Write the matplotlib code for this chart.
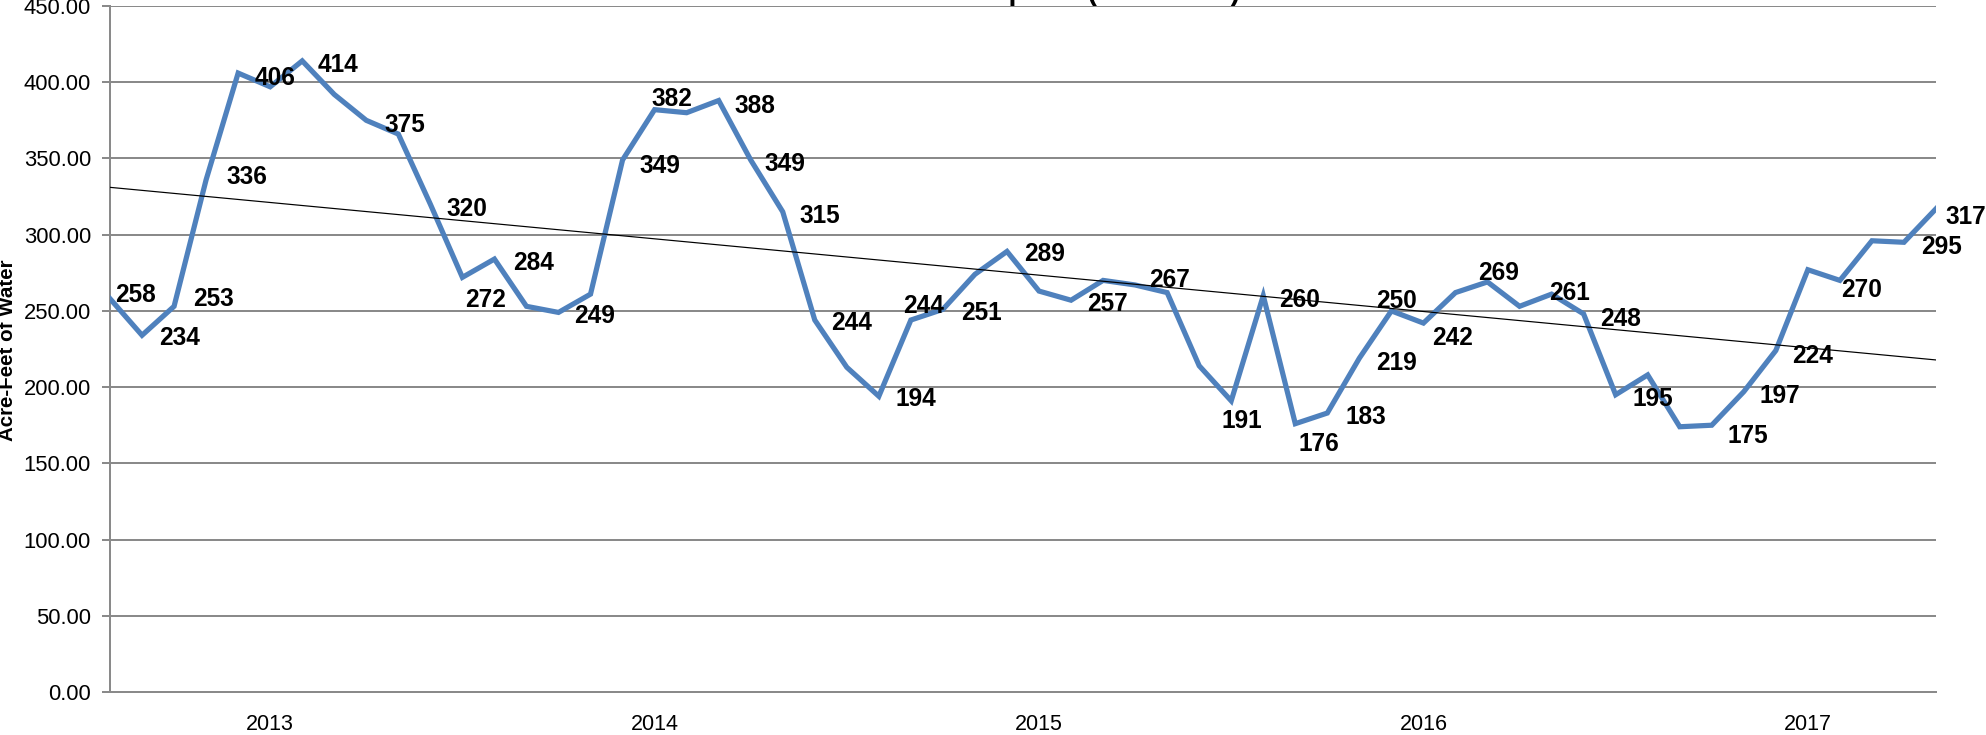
import matplotlib
matplotlib.use("Agg")
import matplotlib.pyplot as plt
import numpy as np
import pandas as pd

# ---- data ----
months = pd.date_range("2012-08-01", periods=58, freq="MS")
consumption = [258, 234, 253, 336, 406, 397, 414, 392, 375, 366,
               320, 272, 284, 253, 249, 261, 349, 382, 380, 388,
               349, 315, 244, 213, 194, 244, 251, 274, 289, 263,
               257, 270, 267, 262, 214, 191, 260, 176, 183, 219,
               250, 242, 262, 269, 253, 261, 248, 195, 208, 174,
               175, 197, 224, 277, 270, 296, 295, 317]
labeled_idx = [0, 1, 2, 3, 4, 6, 8, 10, 11, 12, 14, 16, 17, 19, 20, 21,
               22, 24, 25, 26, 28, 30, 32, 35, 36, 37, 38, 39, 40, 41,
               43, 45, 46, 47, 50, 51, 52, 54, 56, 57]
title = "Total Water Consumption (Acre-Feet)"
ylabel = "Acre-Feet of Water"

# ---- label placement (style): left-edge dx, centre dy in pixels (image, y down) ----
label_offsets = {0: (5, -5), 1: (17, 1), 2: (19, -9), 3: (20, -5), 4: (16, 3),
                 6: (15, 2), 8: (18, 3), 10: (16, 3), 11: (3, 21), 12: (19, 2),
                 14: (16, 2), 16: (17, 4), 17: (-3, -12), 19: (16, 4), 20: (14, 2),
                 21: (17, 2), 22: (16, 1), 24: (17, 1), 25: (-8, -16), 26: (18, 2),
                 28: (17, 1), 30: (16, 2), 32: (14, -7), 35: (-10, 18), 36: (16, 3),
                 37: (3, 19), 38: (18, 2), 39: (17, 3), 40: (-15, -12), 41: (9, 13),
                 43: (-9, -11), 45: (-2, -3), 46: (17, 3), 47: (17, 2), 50: (16, 9),
                 51: (16, 3), 52: (16, 4), 54: (1, 8), 56: (17, 3), 57: (9, 6)}

W, H, DPI = 1986, 735, 72
fig = plt.figure(figsize=(W / DPI, H / DPI), dpi=DPI)
ax = fig.add_axes([110 / W, 1 - 692 / H, (1936 - 110) / W, (692 - 6) / H])

x = np.arange(len(consumption))
y = np.array(consumption, dtype=float)

grid_col = "#8a8a8a"
ax.set_ylim(0, 450)
ax.set_xlim(0, len(consumption) - 1)
ax.set_yticks(np.arange(0, 451, 50))
ax.yaxis.grid(True, color=grid_col, linewidth=2)
ax.set_axisbelow(True)

ax.plot(x, y, color="#4f81bd", linewidth=5.2, solid_joinstyle="miter", zorder=3)

# linear trend line
coef = np.polyfit(x, y, 1)
ax.plot(x, np.polyval(coef, x), color="black", linewidth=1.2, zorder=4)

font = ["Liberation Sans", "DejaVu Sans"]
for i in labeled_idx:
    dx, dy = label_offsets.get(i, (16, 0))
    ax.annotate(str(consumption[i]), xy=(x[i], y[i]), xytext=(dx, -(dy + 8.8)),
                textcoords="offset points", ha="left", va="baseline",
                fontsize=24.5, fontweight="bold", family=font, color="black",
                zorder=5, annotation_clip=False)

# axes styling
for s in ["top", "right"]:
    ax.spines[s].set_visible(False)
for s in ["left", "bottom"]:
    ax.spines[s].set_color(grid_col)
    ax.spines[s].set_linewidth(2)

ax.set_yticklabels([f"{v:.2f}" for v in ax.get_yticks()], family=font, fontsize=22)
ax.tick_params(axis="y", length=8, width=2, color=grid_col, pad=11)

jan_idx = [i for i, m in enumerate(months) if m.month == 1]
ax.set_xticks(jan_idx)
ax.set_xticklabels([str(months[i].year) for i in jan_idx], family=font, fontsize=21.5)
ax.tick_params(axis="x", length=0, pad=22)

fig.text(8 / W, 1 - 350 / H, ylabel, rotation=90, ha="center", va="center",
         fontsize=20.5, fontweight="bold", family=font)
fig.text(985 / W, 1 + 0.5 / H, title, ha="center", va="baseline",
         fontsize=29, fontweight="bold", family=font)

fig.savefig("out.png", dpi=DPI)
